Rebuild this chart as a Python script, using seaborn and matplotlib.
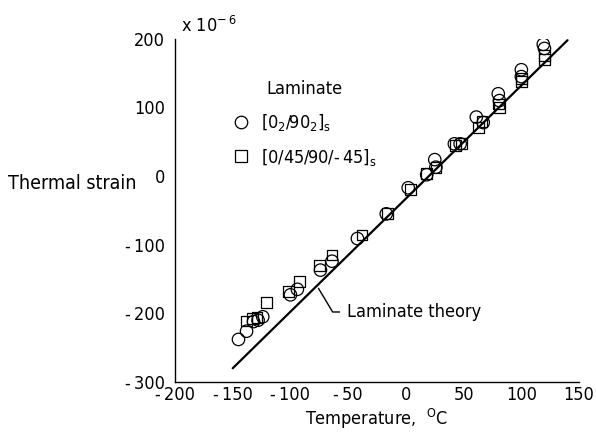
import numpy as np
import pandas as pd
import matplotlib
matplotlib.use('Agg')
import matplotlib.pyplot as plt
from matplotlib.lines import Line2D
import seaborn as sns

# %% Datos

# Laminado [0_2/90_2]_s (circulos)
temp_cross = [-145, -138, -132, -128, -124, -100, -94, -74, -64, -42, -17, 2,
              18, 25, 26, 42, 47, 61, 67, 80, 81, 100, 100, 119, 120]
strain_cross = [-238, -226, -212, -210, -205, -173, -165, -137, -124, -91, -55, -17,
                2, 24, 13, 47, 47, 86, 78, 120, 110, 155, 145, 192, 186]

# Laminado [0/45/90/-45]_s (cuadrados)
temp_quasi = [-138, -133, -129, -121, -102, -92, -75, -64, -38, -16, 4, 18,
              26, 43, 48, 63, 66, 80, 81, 100, 100, 120, 120]
strain_quasi = [-211, -207, -206, -184, -168, -154, -130, -115, -86, -54, -20, 4,
                12, 45, 48, 71, 80, 105, 100, 142, 138, 176, 170]

# Recta de la teoria de laminados
temp_theory = [-150, 140]
strain_theory = [-280, 198]

xticks = [-200, -150, -100, -50, 0, 50, 100, 150]
xtick_labels = ['-\u2009200', '-\u2009150', '-\u2009100', '-\u200950', '0', '50', '100', '150']
yticks = [-300, -200, -100, 0, 100, 200]
ytick_labels = ['-\u2009300', '-\u2009200', '-\u2009100', '0', '100', '200']

label_cross = '[0$_2$/90$_2$]$_s$'
label_quasi = '[0/45/90/-\u200945]$_s$'

# %% Grafico

sns.set_style('white')
plt.rcParams['font.family'] = ['DejaVu Sans']
plt.rcParams['font.stretch'] = 'condensed'
plt.rcParams['mathtext.default'] = 'regular'
plt.rcParams['font.size'] = 13
plt.rcParams['text.color'] = 'black'
plt.rcParams['xtick.color'] = 'black'
plt.rcParams['ytick.color'] = 'black'
plt.rcParams['axes.labelcolor'] = 'black'

fig = plt.figure(figsize=(5.96, 4.36), dpi=100)
ax = fig.add_axes([0.2936, 0.1239, 0.678, 0.787])

# Recta teorica y puntos medidos
sns.lineplot(x=temp_theory, y=strain_theory, ax=ax, color='black', linewidth=1.6)
sns.scatterplot(x=temp_cross, y=strain_cross, ax=ax, marker='o', s=80,
                facecolor='none', edgecolor='black', linewidth=0.9, zorder=3)
sns.scatterplot(x=temp_quasi, y=strain_quasi, ax=ax, marker='s', s=60,
                facecolor='none', edgecolor='black', linewidth=0.9, zorder=3)

ax.set_xlim(-200, 150)
ax.set_ylim(-300, 200)
ax.set_xticks(xticks)
ax.set_xticklabels(xtick_labels)
ax.set_yticks(yticks)
ax.set_yticklabels(ytick_labels)
ax.tick_params(direction='in', length=9, width=1, color='black', labelsize=13)
ax.tick_params(axis='x', pad=3)
ax.tick_params(axis='y', pad=7)

for lado in ['top', 'right']:
    ax.spines[lado].set_visible(False)
for lado in ['left', 'bottom']:
    ax.spines[lado].set_color('black')
    ax.spines[lado].set_linewidth(1)

ax.set_xlabel('Temperature,  $^{O}$C', fontsize=13, labelpad=2)
fig.text(8 / 596, 1 - 183 / 436, 'Thermal strain', va='center', ha='left', fontsize=14)
ax.text(0.015, 1.02, 'x 10$^{-\u20096}$', transform=ax.transAxes, va='baseline', fontsize=13)

# Leyenda sin marco
handles = [
    Line2D([], [], marker='o', linestyle='none', markerfacecolor='none',
           markeredgecolor='black', markersize=9, markeredgewidth=0.9),
    Line2D([], [], marker='s', linestyle='none', markerfacecolor='none',
           markeredgecolor='black', markersize=8, markeredgewidth=0.9),
]
leg = ax.legend(handles, [label_cross, label_quasi], title='Laminate',
                loc='upper left', bbox_to_anchor=(0.1, 0.926), frameon=False,
                fontsize=13, title_fontsize=13, labelspacing=0.75,
                handletextpad=0.6, handlelength=1.0)

ax.annotate('Laminate theory', xy=(-77, -160), xytext=(-51, -198),
            va='center', ha='left', fontsize=13,
            arrowprops=dict(arrowstyle='-', color='black', linewidth=1,
                            connectionstyle='angle,angleA=0,angleB=-59,rad=0',
                            relpos=(0, 0.5), shrinkA=3, shrinkB=2))

fig.savefig('out.png', dpi=100)
